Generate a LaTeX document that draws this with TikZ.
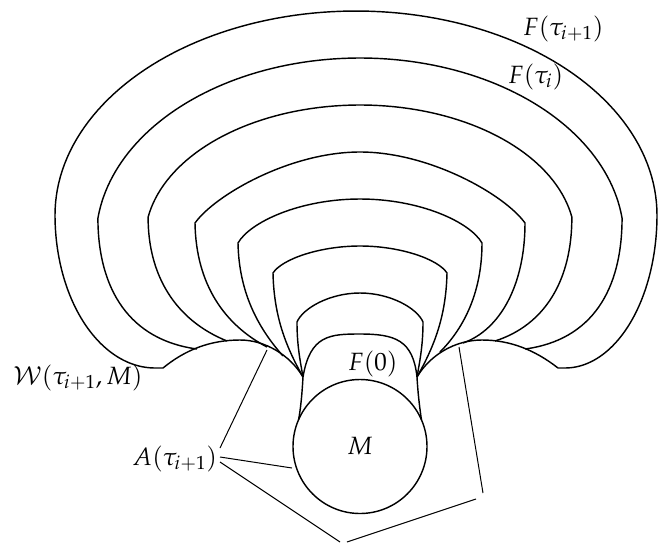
\documentclass[tikz,border=0pt]{standalone}
\usepackage{mathpazo}
\begin{document}
\begin{tikzpicture}[x=0.7pt,y=-0.7pt,line join=round,
  curve/.style={draw,line width=1pt},
  lead/.style={draw,line width=0.7pt},
  lbl/.style={inner sep=0pt,anchor=base west},
  every node/.style={font=\fontsize{17.5}{21}\selectfont}]
\useasboundingbox (0,0) rectangle (658,544);
% outer curve F(tau_{i+1})
\draw[curve] (163,368) -- (155,368)
  -- plot[domain=270:180,samples=50] ({155+100*cos(\x)},{215-153*sin(\x)})
  -- plot[domain=180:0,samples=100] ({356+301*cos(\x)},{215-204*sin(\x)})
  -- plot[domain=0:-90,samples=50] ({565+92*cos(\x)},{215-153*sin(\x)})
  -- (558,368);
% W curve with the two cusps
\draw[curve] (163,368) .. controls (185,350) and (210,340) .. (240,340)
  .. controls (265,340) and (290,355) .. (303,377)
  .. controls (302,395) and (300.5,410) .. (298.5,420);
\draw[curve] (558,368) .. controls (535,350) and (510,340) .. (482,340)
  .. controls (455,340) and (430,355) .. (417,377)
  .. controls (418,395) and (420,410) .. (421.5,420);
% F(0)
\draw[curve] (303,377) .. controls (310,335) and (330,334) .. (360,334)
  .. controls (395,334) and (413,340) .. (417,377);
% c1
\draw[curve] (303,377) .. controls (300,360) and (297,345) .. (297,322)
  .. controls (303,308) and (330,293) .. (360,293)
  .. controls (390,293) and (417,308) .. (423,322)
  .. controls (423,345) and (420,360) .. (417,377);
% c2
\draw[curve] (303,377) .. controls (288,350) and (274,320) .. (273,273)
  .. controls (282,259) and (320,246) .. (360,246)
  .. controls (400,246) and (438,259) .. (447,273)
  .. controls (446,320) and (432,350) .. (417,377);
% c3
\draw[curve] (283,356) .. controls (260,330) and (239,295) .. (238,243)
  .. controls (250,222) and (300,199) .. (360,199)
  .. controls (420,199) and (470,222) .. (482,243)
  .. controls (482,295) and (462,330) .. (440,352);
% c4
\draw[curve] (267,347) .. controls (225,325) and (196,285) .. (195,223)
  .. controls (215,195) and (290,152) .. (360,152)
  .. controls (430,152) and (505,195) .. (525,223)
  .. controls (525,285) and (500,330) .. (463,343);
% c5
\draw[curve] (227,341) .. controls (175,320) and (148,275) .. (148.1,217)
  -- plot[domain=170.19:9.81,samples=80] ({360+215*cos(\x)},{240-135*sin(\x)})
  .. controls (572,280) and (545,325) .. (495,341);
% c6 = F(tau_i)
\draw[curve] (197,349) .. controls (130,340) and (98,290) .. (97.9,218)
  -- plot[domain=173.06:6.94,samples=100] ({360+264*cos(\x)},{240-182*sin(\x)})
  .. controls (622,290) and (592,340) .. (525,349);
% the set M
\node[draw,circle,minimum size=93.8pt,inner sep=0pt,line width=1pt] (M) at (360,446.5) {$M$};
% labels
\node[lbl] (Ft1) at (523,35) {$F(\tau_{i+1})$};
\node[lbl] (Fti) at (508,83) {$F(\tau_i)$};
\node[lbl] (F0) at (348,370) {$F(0)$};
\node[lbl] (W) at (13,384) {$\mathcal{W}(\tau_{i+1},M)$};
\node[lbl] (A) at (132,465) {$A(\tau_{i+1})$};
% leader lines of A
\coordinate (a1) at (220,448);
\coordinate (a2) at (220,457);
\coordinate (a3) at (220,462);
\coordinate (p1) at (267,350);
\coordinate (p2) at (292,468);
\coordinate (p3) at (340,542);
\coordinate (p4) at (347,542);
\coordinate (p5) at (476,499);
\coordinate (p6) at (459,347);
\coordinate (p7) at (483,493);
\draw[lead] (a1) -- (p1);
\draw[lead] (a2) -- (p2);
\draw[lead] (a3) -- (p3);
\draw[lead] (p4) -- (p5);
\draw[lead] (p6) -- (p7);
\end{tikzpicture}
\end{document}
